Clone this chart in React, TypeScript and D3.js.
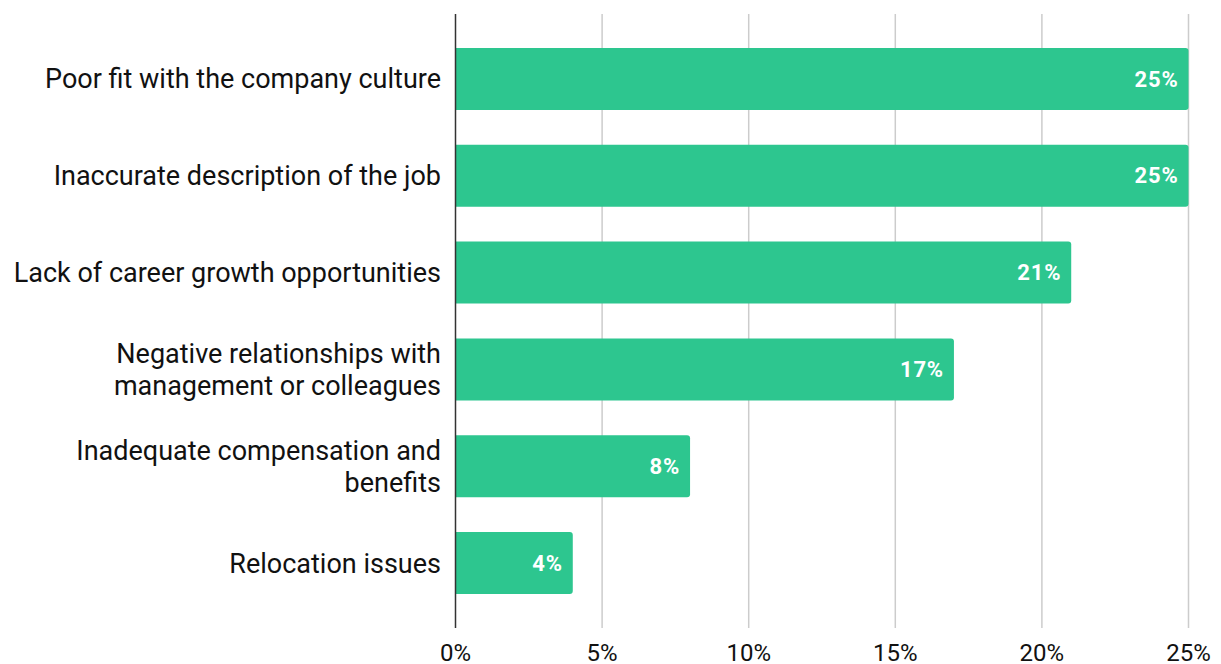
import { scaleLinear, scaleBand } from "d3";

const categories: string[][] = [
  ["Poor fit with the company culture"],
  ["Inaccurate description of the job"],
  ["Lack of career growth opportunities"],
  ["Negative relationships with", "management or colleagues"],
  ["Inadequate compensation and", "benefits"],
  ["Relocation issues"],
];
const values = [25, 25, 21, 17, 8, 4];
const ticks = [0, 5, 10, 15, 20, 25];

const width = 1221;
const height = 664;
const font = "Roboto, 'Noto Sans', sans-serif";

const App = () => {
  const xScale = scaleLinear().domain([0, 25]).range([455.5, 1188.5]);
  const yScale = scaleBand<number>()
    .domain(values.map((_, i) => i))
    .range([14, 628])
    .paddingInner(0.36)
    .paddingOuter(0.35);

  const bw = yScale.bandwidth();
  const r = 3;

  const barPath = (x0: number, x1: number, y: number, h: number) =>
    `M${x0},${y}H${x1 - r}Q${x1},${y} ${x1},${y + r}V${y + h - r}Q${x1},${y + h} ${x1 - r},${y + h}H${x0}Z`;

  return (
    <svg width={width} height={height} style={{ position: "absolute", left: 0, top: 0 }}>
      <rect width={width} height={height} fill="#fff" />
      {ticks.slice(1).map(t => (
        <line key={t} x1={xScale(t)} x2={xScale(t)} y1={14} y2={628} stroke="#cccccc" strokeWidth={1.5} />
      ))}
      {values.map((v, i) => {
        const y = yScale(i) ?? 0;
        return (
          <g key={i}>
            <path d={barPath(xScale(0), xScale(v), y, bw)} fill="#2dc68f" />
            <text
              x={xScale(v) - 10}
              y={y + bw / 2}
              dy="0.35em"
              textAnchor="end"
              fill="#fff"
              fontWeight="bold"
              fontSize={22}
              letterSpacing={0.8}
              fontFamily={font}
            >
              {v}%
            </text>
            <text textAnchor="end" fontSize={27} fontFamily={font} fill="#111">
              {categories[i].map((line, j) => (
                <tspan
                  key={j}
                  x={441}
                  y={y + bw / 2 + (j - (categories[i].length - 1) / 2) * 32}
                  dy="0.35em"
                >
                  {line}
                </tspan>
              ))}
            </text>
          </g>
        );
      })}
      <line x1={xScale(0)} x2={xScale(0)} y1={14} y2={628} stroke="#333" strokeWidth={1.5} />
      {ticks.map(t => (
        <text
          key={t}
          x={xScale(t)}
          y={661}
          textAnchor="middle"
          fontSize={24}
          fontFamily={font}
          fill="#111"
        >
          {t}%
        </text>
      ))}
    </svg>
  );
};

export default App;
